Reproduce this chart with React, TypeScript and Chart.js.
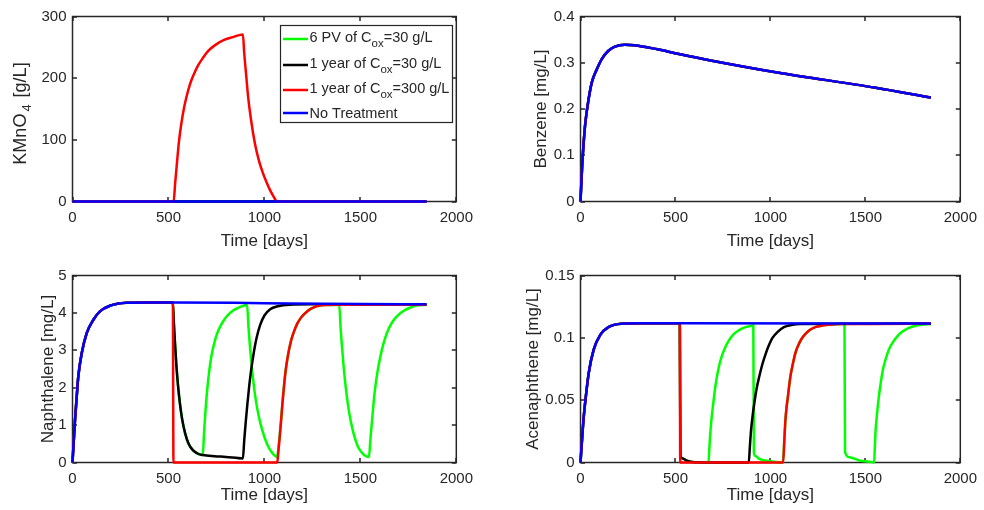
import React, { useEffect, useRef } from 'react';
import { Chart, registerables } from 'chart.js';
Chart.register(...registerables);

const FONT = '"Liberation Sans", Arial, Helvetica, sans-serif';
const TXT = '#262626';
const COLORS = ['#00ff00', '#000000', '#ff0000', '#0000ff'];
const SERIES = ['6 PV', '1 year 30', '1 year 300', 'No Treatment'];

// Time axis
const xTicks = [0, 500, 1000, 1500, 2000];
const T_END = 1845;

// ---------- KMnO4 [g/L] ----------
const kmZeroT = [0, T_END];
const kmZeroV = [0, 0];
const kmRedT = [0, 527, 535, 545, 555, 567, 580, 595, 612, 632, 655, 680, 710, 745, 790, 840, 888,
  895, 905, 915, 930, 950, 970, 990, 1010, 1030, 1048, 1065, T_END];
const kmRedV = [0, 0, 30, 65, 98, 126, 150, 171, 190, 206, 221, 233, 245, 254, 262, 267, 271,
  240, 205, 170, 133, 95, 68, 48, 32, 18, 8, 0, 0];

// ---------- Benzene [mg/L] (all scenarios coincide) ----------
const benzT = [0, 9, 17, 26, 43, 60, 86, 112, 147, 181, 233, 285, 406, 518, 699, 1036, 1554, T_END];
const benzV = [0, 0.079, 0.129, 0.172, 0.222, 0.258, 0.286, 0.308, 0.326, 0.335, 0.339, 0.338, 0.329, 0.319, 0.304, 0.279, 0.246, 0.225];

// ---------- Naphthalene [mg/L] ----------
const napPreT = [0, 13, 22, 30, 48, 74, 108, 143, 195, 281, 400];
const napPreV = [0, 1.13, 1.76, 2.29, 2.92, 3.46, 3.81, 4.04, 4.19, 4.27, 4.28];
const napBlueT = [523, 1000, 1500, T_END];
const napBlueV = [4.28, 4.26, 4.24, 4.23];
const napRedT = [523, 526, 1067, 1073, 1080, 1087, 1094, 1102, 1111, 1120, 1128, 1140, 1154, 1170, 1189, 1210, 1232, 1258, 1284, 1320, 1371, T_END];
const napRedV = [4.28, 0, 0, 0.3, 0.69, 1.12, 1.58, 2.03, 2.47, 2.78, 3.01, 3.28, 3.5, 3.7, 3.86, 3.98, 4.08, 4.15, 4.19, 4.21, 4.22, 4.22];
const napDropT = [523, 528, 534, 541, 550, 560, 572, 587, 605, 627, 655, 679];
const napDropV = [4.28, 3.75, 3.2, 2.62, 2.05, 1.57, 1.14, 0.78, 0.5, 0.33, 0.23, 0.2];
const napBlackT = [740, 800, 888, 895, 903, 912, 922, 933, 945, 960, 978, 1000, 1030, 1070, 1130, 1250, T_END];
const napBlackV = [0.17, 0.15, 0.11, 0.6, 1.1, 1.6, 2.1, 2.55, 2.95, 3.35, 3.68, 3.93, 4.1, 4.18, 4.22, 4.23, 4.22];
const napGreenT = [686, 694, 703, 713, 725, 739, 755, 774, 795, 817, 842, 869, 910,
  917, 925, 934, 945, 958, 972, 988, 1007, 1028, 1047, 1066,
  1073, 1080, 1087, 1094, 1102, 1111, 1120, 1128, 1140, 1154, 1170, 1189, 1210, 1232, 1258, 1284, 1320, 1390,
  1397, 1405, 1414, 1424, 1436, 1450, 1466, 1485, 1505, 1525, 1545,
  1552, 1561, 1569, 1578, 1590, 1604, 1620, 1638, 1660, 1682, 1708, 1734, 1760, 1786, T_END];
const napGreenV = [0.85, 1.45, 2.0, 2.47, 2.88, 3.2, 3.47, 3.68, 3.85, 3.98, 4.08, 4.15, 4.21,
  3.62, 3.08, 2.58, 2.05, 1.58, 1.2, 0.88, 0.58, 0.35, 0.22, 0.15,
  0.4, 0.75, 1.15, 1.6, 2.05, 2.47, 2.78, 3.01, 3.28, 3.5, 3.7, 3.86, 3.98, 4.08, 4.15, 4.19, 4.21, 4.22,
  3.6, 3.05, 2.5, 2.0, 1.52, 1.1, 0.75, 0.45, 0.28, 0.18, 0.15,
  0.6, 1.13, 1.6, 2.03, 2.45, 2.83, 3.17, 3.46, 3.7, 3.86, 3.99, 4.08, 4.14, 4.19, 4.22];

// ---------- Acenaphthene [mg/L] ----------
const acePreT = [0, 9, 17, 26, 43, 69, 104, 147, 216, 320];
const acePreV = [0, 0.0204, 0.0365, 0.05, 0.0715, 0.0903, 0.1024, 0.1086, 0.1113, 0.1116];
const aceBlueT = [523, T_END];
const aceBlueV = [0.1116, 0.1114];
const aceRedT = [523, 525, 1067, 1073, 1079, 1085, 1092, 1105, 1118, 1131, 1148, 1166, 1187, 1209, 1240, 1278, 1364, T_END];
const aceRedV = [0.1116, 0, 0, 0.017, 0.0339, 0.044, 0.0527, 0.0688, 0.079, 0.0876, 0.0945, 0.0997, 0.1035, 0.1065, 0.1088, 0.11, 0.111, 0.1114];
const aceDropT = [523, 526, 535, 560, 600];
const aceDropV = [0.1116, 0.006, 0.0035, 0.0015, 0.0003];
const aceBlackT = [886, 892, 898, 906, 915, 927, 941, 958, 976, 992, 1010, 1040, 1071, 1110, 1157, T_END];
const aceBlackV = [0, 0.013, 0.0258, 0.037, 0.0473, 0.059, 0.0688, 0.079, 0.0876, 0.094, 0.0997, 0.105, 0.1085, 0.1102, 0.111, 0.1114];
const aceGreenT = [674, 678, 682, 690, 699, 711, 725, 741, 760, 780, 803, 828, 855, 880, 910,
  913, 924, 941, 1010, 1066, 1073, 1079, 1085, 1092, 1105, 1118, 1131, 1148, 1166, 1187, 1209, 1240, 1278, 1364, 1390,
  1393, 1416, 1468, 1537, 1546, 1550, 1554, 1562, 1571, 1581, 1592, 1607, 1623, 1643, 1667, 1695, 1727, 1760, 1796, T_END];
const aceGreenV = [0, 0.01, 0.0204, 0.035, 0.0473, 0.062, 0.0742, 0.084, 0.0917, 0.0975, 0.1024, 0.1055, 0.1078, 0.109, 0.1098,
  0.008, 0.005, 0.003, 0.0008, 0, 0.017, 0.0339, 0.044, 0.0527, 0.0688, 0.079, 0.0876, 0.0945, 0.0997, 0.1035, 0.1065, 0.1088, 0.11, 0.111, 0.1112,
  0.0083, 0.0043, 0.0016, 0.0003, 0, 0.013, 0.0258, 0.04, 0.0527, 0.064, 0.0742, 0.083, 0.0903, 0.096, 0.101, 0.105, 0.1078, 0.1095, 0.1105, 0.111];

const pts = (t: number[], v: number[]) => t.map((x, i) => ({ x, y: v[i] }));

type Panel = {
  id: string;
  cx: number; cy: number; cw: number; ch: number;
  l: number; t: number; r: number; b: number;
  yMax: number; yStep: number;
  yTitle: string; yTitlePad: number; xTitlePad: number;
  series: { x: number; y: number }[][];
};

const panels: Panel[] = [
  {
    id: 'kmno4', cx: 0, cy: 0, cw: 480, ch: 250, l: 72.5, t: 16.5, r: 458.5, b: 201.5,
    yMax: 300, yStep: 100, yTitle: '', yTitlePad: 0, xTitlePad: -1.5,
    series: [pts(kmZeroT, kmZeroV), pts(kmZeroT, kmZeroV), pts(kmRedT, kmRedV), pts(kmZeroT, kmZeroV)],
  },
  {
    id: 'benz', cx: 480, cy: 0, cw: 504, ch: 250, l: 580.5, t: 16.5, r: 966.5, b: 201.5,
    yMax: 0.4, yStep: 0.1, yTitle: 'Benzene [mg/L]', yTitlePad: 51.3, xTitlePad: -1.5,
    series: [pts(benzT, benzV), pts(benzT, benzV), pts(benzT, benzV), pts(benzT, benzV)],
  },
  {
    id: 'nap', cx: 0, cy: 250, cw: 480, ch: 260, l: 72.5, t: 275.5, r: 458.5, b: 462.5,
    yMax: 5, yStep: 1, yTitle: 'Naphthalene [mg/L]', yTitlePad: 37.8, xTitlePad: 4.8,
    series: [
      pts([...napPreT, ...napDropT, ...napGreenT], [...napPreV, ...napDropV, ...napGreenV]),
      pts([...napPreT, ...napDropT, ...napBlackT], [...napPreV, ...napDropV, ...napBlackV]),
      pts([...napPreT, ...napRedT], [...napPreV, ...napRedV]),
      pts([...napPreT, ...napBlueT], [...napPreV, ...napBlueV]),
    ],
  },
  {
    id: 'ace', cx: 480, cy: 250, cw: 504, ch: 260, l: 580.5, t: 275.5, r: 966.5, b: 462.5,
    yMax: 0.15, yStep: 0.05, yTitle: 'Acenaphthene [mg/L]', yTitlePad: 43.3, xTitlePad: 4.8,
    series: [
      pts([...acePreT, ...aceDropT, ...aceGreenT], [...acePreV, ...aceDropV, ...aceGreenV]),
      pts([...acePreT, ...aceDropT, ...aceBlackT], [...acePreV, ...aceDropV, ...aceBlackV]),
      pts([...acePreT, ...aceRedT], [...acePreV, ...aceRedV]),
      pts([...acePreT, ...aceBlueT], [...acePreV, ...aceBlueV]),
    ],
  },
];

const boxPlugin = {
  id: 'matlabBox',
  beforeDatasetsDraw(chart: any) {
    const { ctx, chartArea: a, scales } = chart;
    ctx.save();
    ctx.strokeStyle = TXT;
    ctx.lineWidth = 1.5;
    ctx.strokeRect(a.left, a.top, a.right - a.left, a.bottom - a.top);
    const L = 4.5;
    ctx.beginPath();
    for (const tk of scales.x.ticks) {
      const p = Math.round(scales.x.getPixelForValue(tk.value));
      ctx.moveTo(p, a.bottom); ctx.lineTo(p, a.bottom - L);
      ctx.moveTo(p, a.top); ctx.lineTo(p, a.top + L);
    }
    for (const tk of scales.y.ticks) {
      const p = Math.round(scales.y.getPixelForValue(tk.value));
      ctx.moveTo(a.left, p); ctx.lineTo(a.left + L, p);
      ctx.moveTo(a.right, p); ctx.lineTo(a.right - L, p);
    }
    ctx.stroke();
    ctx.restore();
  },
};

const LEGEND_ITEMS: { pre: string; sub: string; post: string }[] = [
  { pre: '6 PV of C', sub: 'ox', post: '=30 g/L' },
  { pre: '1 year of C', sub: 'ox', post: '=30 g/L' },
  { pre: '1 year of C', sub: 'ox', post: '=300 g/L' },
  { pre: 'No Treatment', sub: '', post: '' },
];
const LEGEND_LINE_Y = [39, 65, 90, 113];

const legendPlugin = {
  id: 'matlabLegend',
  afterDatasetsDraw(chart: any) {
    const { ctx } = chart;
    ctx.save();
    ctx.fillStyle = '#ffffff';
    ctx.fillRect(280.5, 25.5, 172, 97);
    ctx.strokeStyle = TXT;
    ctx.lineWidth = 1.2;
    ctx.strokeRect(280.5, 25.5, 172, 97);
    LEGEND_ITEMS.forEach((it, i) => {
      const y = LEGEND_LINE_Y[i];
      ctx.strokeStyle = COLORS[i];
      ctx.lineWidth = 2.5;
      ctx.beginPath();
      ctx.moveTo(283, y); ctx.lineTo(308, y);
      ctx.stroke();
      ctx.fillStyle = TXT;
      ctx.textBaseline = 'alphabetic';
      ctx.textAlign = 'left';
      const base = it.sub ? y + 3 : y + 5.2;
      let x = 309.5;
      ctx.font = `14.5px ${FONT}`;
      ctx.fillText(it.pre, x, base);
      x += ctx.measureText(it.pre).width;
      if (it.sub) {
        ctx.font = `11.5px ${FONT}`;
        ctx.fillText(it.sub, x, base + 5);
        x += ctx.measureText(it.sub).width;
        ctx.font = `14.5px ${FONT}`;
        ctx.fillText(it.post, x, base);
      }
    });
    ctx.restore();
  },
};

const kmLabelPlugin = {
  id: 'kmLabel',
  afterDraw(chart: any) {
    const { ctx } = chart;
    ctx.save();
    ctx.translate(20, 113.5);
    ctx.rotate(-Math.PI / 2);
    ctx.fillStyle = TXT;
    ctx.textBaseline = 'alphabetic';
    ctx.textAlign = 'left';
    const mainF = `18px ${FONT}`;
    const subF = `13px ${FONT}`;
    const gap = 2;
    ctx.font = mainF; const w1 = ctx.measureText('KMnO').width; const w3 = ctx.measureText(' [g/L]').width;
    ctx.font = subF; const w2 = ctx.measureText('4').width;
    let x = -(w1 + w2 + w3 + 2 * gap) / 2;
    ctx.font = mainF; ctx.fillText('KMnO', x, 6.3); x += w1 + gap;
    ctx.font = subF; ctx.fillText('4', x, 11); x += w2 + gap;
    ctx.font = mainF; ctx.fillText(' [g/L]', x, 6.3);
    ctx.restore();
  },
};

const fmt = (v: any) => String(Number(Number(v).toFixed(4)));

function PanelChart({ p }: { p: Panel }) {
  const ref = useRef<HTMLCanvasElement | null>(null);
  useEffect(() => {
    if (!ref.current) return;
    const plugins: any[] = [boxPlugin];
    if (p.id === 'kmno4') plugins.push(legendPlugin, kmLabelPlugin);
    const chart = new Chart(ref.current, {
      type: 'scatter',
      data: {
        datasets: p.series.map((d, i) => ({
          label: SERIES[i],
          data: d,
          showLine: true,
          borderColor: COLORS[i],
          backgroundColor: COLORS[i],
          borderWidth: 2.5,
          pointRadius: 0,
          pointHoverRadius: 0,
          cubicInterpolationMode: 'monotone' as const,
          order: 4 - i,
          clip: false as any,
        })),
      },
      options: {
        responsive: false,
        maintainAspectRatio: false,
        animation: false,
        events: [],
        layout: {
          padding: { left: 0, top: p.t - p.cy, right: p.cx + p.cw - p.r, bottom: 0 },
        },
        plugins: { legend: { display: false }, tooltip: { enabled: false } },
        scales: {
          x: {
            type: 'linear', min: 0, max: 2000,
            afterBuildTicks: (s: any) => { s.ticks = xTicks.map((v) => ({ value: v })); },
            ticks: { padding: 7, color: TXT, font: { family: FONT, size: 15 }, callback: fmt, maxRotation: 0, autoSkip: false },
            grid: { display: false, drawTicks: false },
            border: { display: false },
            title: { display: true, text: 'Time [days]', color: TXT, font: { family: FONT, size: 17 }, padding: { top: 0, bottom: p.xTitlePad } },
            afterFit: (s: any) => { s.height = p.cy + p.ch - p.b; },
          },
          y: {
            type: 'linear', min: 0, max: p.yMax,
            ticks: { stepSize: p.yStep, padding: 6, color: TXT, font: { family: FONT, size: 15 }, callback: fmt, autoSkip: false },
            grid: { display: false, drawTicks: false },
            border: { display: false },
            title: { display: p.yTitle !== '', text: p.yTitle, color: TXT, font: { family: FONT, size: 17 }, padding: { top: p.yTitlePad, bottom: 0 } },
            afterFit: (s: any) => { s.width = p.l - p.cx; },
          },
        },
      } as any,
      plugins,
    });
    return () => chart.destroy();
  }, [p]);
  return (
    <canvas
      ref={ref}
      width={p.cw}
      height={p.ch}
      style={{ position: 'absolute', left: p.cx, top: p.cy, width: p.cw, height: p.ch }}
    />
  );
}

export default function App() {
  return (
    <div style={{ position: 'absolute', left: 0, top: 0, width: 984, height: 510, background: '#ffffff', overflow: 'hidden' }}>
      {panels.map((p) => (
        <PanelChart key={p.id} p={p} />
      ))}
    </div>
  );
}
